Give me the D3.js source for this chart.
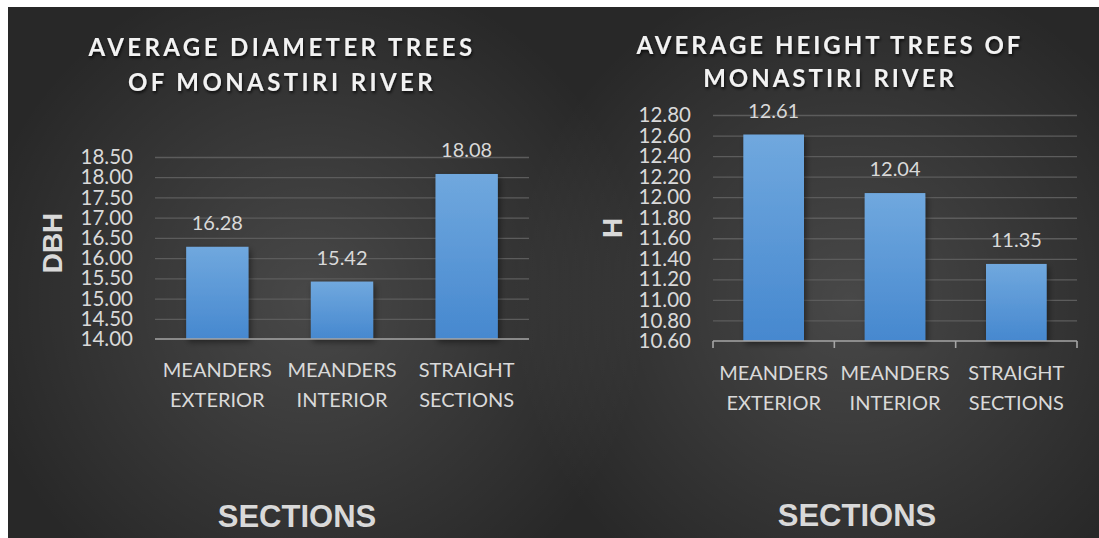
<!DOCTYPE html>
<html>
<head>
<meta charset="utf-8">
<script src="https://cdn.jsdelivr.net/npm/d3@7"></script>
<style>
  body { margin: 0; background: #ffffff; }
  svg { display: block; }
</style>
</head>
<body>
<svg id="chart" width="1099" height="538"></svg>
<script>
// Section categories (two text lines each) and measured averages
const sections = [["MEANDERS", "EXTERIOR"], ["MEANDERS", "INTERIOR"], ["STRAIGHT", "SECTIONS"]];
const dbhValues = [16.28, 15.42, 18.08];
const heightValues = [12.61, 12.04, 11.35];
const dbhTicks = [14.00, 14.50, 15.00, 15.50, 16.00, 16.50, 17.00, 17.50, 18.00, 18.50];
const heightTicks = [10.60, 10.80, 11.00, 11.20, 11.40, 11.60, 11.80, 12.00, 12.20, 12.40, 12.60, 12.80];
const dbhTitle = ["AVERAGE DIAMETER TREES", "OF MONASTIRI RIVER"];
const heightTitle = ["AVERAGE HEIGHT TREES OF", "MONASTIRI RIVER"];
const xAxisTitle = "SECTIONS";

const svg = d3.select("#chart");
const defs = svg.append("defs");

// Bar fill: light blue on top fading to a deeper blue
const barGrad = defs.append("linearGradient")
  .attr("id", "barFill").attr("x1", 0).attr("y1", 0).attr("x2", 0).attr("y2", 1);
barGrad.append("stop").attr("offset", "0%").attr("stop-color", "#70a8de");
barGrad.append("stop").attr("offset", "100%").attr("stop-color", "#4688cf");

// Soft light glow behind each chart on a dark base
function glow(id, cx, cy) {
  const rg = defs.append("radialGradient")
    .attr("id", id).attr("gradientUnits", "userSpaceOnUse")
    .attr("cx", cx).attr("cy", cy).attr("r", 340);
  rg.append("stop").attr("offset", "0%").attr("stop-color", "#ffffff").attr("stop-opacity", 0.15);
  rg.append("stop").attr("offset", "100%").attr("stop-color", "#ffffff").attr("stop-opacity", 0);
}
glow("glowLeft", 310, 300);
glow("glowRight", 850, 300);

const barShadow = defs.append("filter").attr("id", "barShadow")
  .attr("x", "-20%").attr("y", "-10%").attr("width", "150%").attr("height", "130%");
barShadow.append("feDropShadow").attr("dx", 2).attr("dy", 3).attr("stdDeviation", 3)
  .attr("flood-color", "#000").attr("flood-opacity", 0.45);

const textShadow = defs.append("filter").attr("id", "textShadow")
  .attr("x", "-10%").attr("y", "-30%").attr("width", "120%").attr("height", "160%");
textShadow.append("feDropShadow").attr("dx", 1).attr("dy", 2).attr("stdDeviation", 1.6)
  .attr("flood-color", "#000").attr("flood-opacity", 0.75);

const labelFont = "Lato, 'Open Sans', sans-serif";
const boldFont = "'Liberation Sans', Arial, sans-serif";

// Background: dark base with two glows
const area = [8, 7, 1091, 531];
svg.append("rect").attr("x", area[0]).attr("y", area[1]).attr("width", area[2]).attr("height", area[3])
  .attr("fill", "#282828");
["glowLeft", "glowRight"].forEach(id => {
  svg.append("rect").attr("x", area[0]).attr("y", area[1]).attr("width", area[2]).attr("height", area[3])
    .attr("fill", `url(#${id})`);
});

function drawChart(cfg) {
  const g = svg.append("g");

  const x = d3.scaleBand()
    .domain(d3.range(cfg.values.length))
    .range([cfg.left, cfg.right])
    .paddingInner(0.5).paddingOuter(0.25);

  const y = d3.scaleLinear()
    .domain([cfg.ticks[0], cfg.ticks[cfg.ticks.length - 1]])
    .range([cfg.bottom, cfg.top]);

  // Title
  const title = g.append("text")
    .attr("text-anchor", "middle")
    .attr("font-family", labelFont).attr("font-weight", 700)
    .attr("font-size", 24).attr("letter-spacing", cfg.titleSpacing)
    .attr("fill", "#f2f2f2")
    .attr("filter", "url(#textShadow)");
  cfg.title.forEach((line, i) => {
    title.append("tspan").attr("x", cfg.titleX).attr("y", cfg.titleY[i]).text(line);
  });

  // Horizontal gridlines
  g.append("g")
    .attr("transform", `translate(${cfg.left},0)`)
    .call(d3.axisLeft(y).tickValues(cfg.ticks.slice(1)).tickSize(-(cfg.right - cfg.left)).tickFormat(""))
    .call(a => a.select(".domain").remove())
    .call(a => a.selectAll(".tick line").attr("stroke", "#5c5c5c").attr("stroke-width", 1.3));

  // Y tick labels
  g.append("g")
    .attr("transform", `translate(${cfg.labelRight},0)`)
    .call(d3.axisLeft(y).tickValues(cfg.ticks).tickSize(0).tickPadding(0).tickFormat(d3.format(".2f")))
    .call(a => a.select(".domain").remove())
    .call(a => a.selectAll(".tick text")
      .attr("font-family", labelFont).attr("font-size", 20.5).attr("fill", "#d9d9d9"));

  // Bars
  g.append("g").selectAll("rect")
    .data(cfg.values)
    .join("rect")
    .attr("x", (d, i) => x(i))
    .attr("y", d => y(d))
    .attr("width", x.bandwidth())
    .attr("height", d => y(cfg.ticks[0]) - y(d))
    .attr("fill", "url(#barFill)")
    .attr("filter", "url(#barShadow)");

  // Value labels
  g.append("g").selectAll("text")
    .data(cfg.values)
    .join("text")
    .attr("x", (d, i) => x(i) + x.bandwidth() / 2)
    .attr("y", d => y(d) - 17)
    .attr("text-anchor", "middle")
    .attr("font-family", labelFont).attr("font-size", 20).attr("fill", "#d9d9d9")
    .text(d => d3.format(".2f")(d));

  // Category axis
  const xa = g.append("g")
    .attr("transform", `translate(0,${cfg.bottom})`)
    .call(d3.axisBottom(x).tickFormat("").tickSize(0));
  xa.select(".domain").attr("d", `M${cfg.left},0H${cfg.right}`)
    .attr("stroke", "#a6a6a6").attr("stroke-width", 1.6);
  xa.selectAll(".tick").remove();
  if (cfg.edgeTicks) {
    const step = x.step();
    const edges = d3.range(cfg.values.length + 1).map(i => cfg.left + i * step);
    xa.selectAll("line.edge")
      .data(edges)
      .join("line")
      .attr("class", "edge")
      .attr("x1", d => d).attr("x2", d => d)
      .attr("y1", 0).attr("y2", 7)
      .attr("stroke", "#a6a6a6").attr("stroke-width", 1.6);
  }

  // Category labels (two lines)
  const cat = g.append("g").selectAll("text")
    .data(sections)
    .join("text")
    .attr("text-anchor", "middle")
    .attr("font-family", labelFont).attr("font-size", 20).attr("fill", "#d9d9d9");
  cat.each(function (lines, i) {
    const t = d3.select(this);
    lines.forEach((line, j) => {
      t.append("tspan")
        .attr("x", x(i) + x.bandwidth() / 2)
        .attr("y", cfg.bottom + cfg.catOffset + j * 30)
        .text(line);
    });
  });

  // Axis titles
  g.append("text")
    .attr("x", cfg.xTitle[0]).attr("y", cfg.xTitle[1])
    .attr("text-anchor", "middle")
    .attr("font-family", boldFont).attr("font-weight", 700)
    .attr("font-size", 31).attr("fill", "#d9d9d9")
    .text(xAxisTitle);

  g.append("text")
    .attr("transform", `translate(${cfg.yTitle[0]},${cfg.yTitle[1]}) rotate(-90)`)
    .attr("text-anchor", "middle")
    .attr("dominant-baseline", "central")
    .attr("font-family", boldFont).attr("font-weight", 700)
    .attr("font-size", 28).attr("fill", "#d9d9d9")
    .text(cfg.yLabel);
}

drawChart({
  values: dbhValues, ticks: dbhTicks,
  left: 155, right: 529, top: 157, bottom: 339,
  labelRight: 133,
  title: dbhTitle, titleX: 282, titleY: [56, 91], titleSpacing: 3.4,
  catOffset: 38,
  xTitle: [297, 527],
  yTitle: [52, 243], yLabel: "DBH",
  edgeTicks: false
});

drawChart({
  values: heightValues, ticks: heightTicks,
  left: 713, right: 1077, top: 115, bottom: 341,
  labelRight: 691,
  title: heightTitle, titleX: 830, titleY: [54, 87], titleSpacing: 3,
  catOffset: 39,
  xTitle: [857, 526],
  yTitle: [612, 228], yLabel: "H",
  edgeTicks: true
});
</script>
</body>
</html>
